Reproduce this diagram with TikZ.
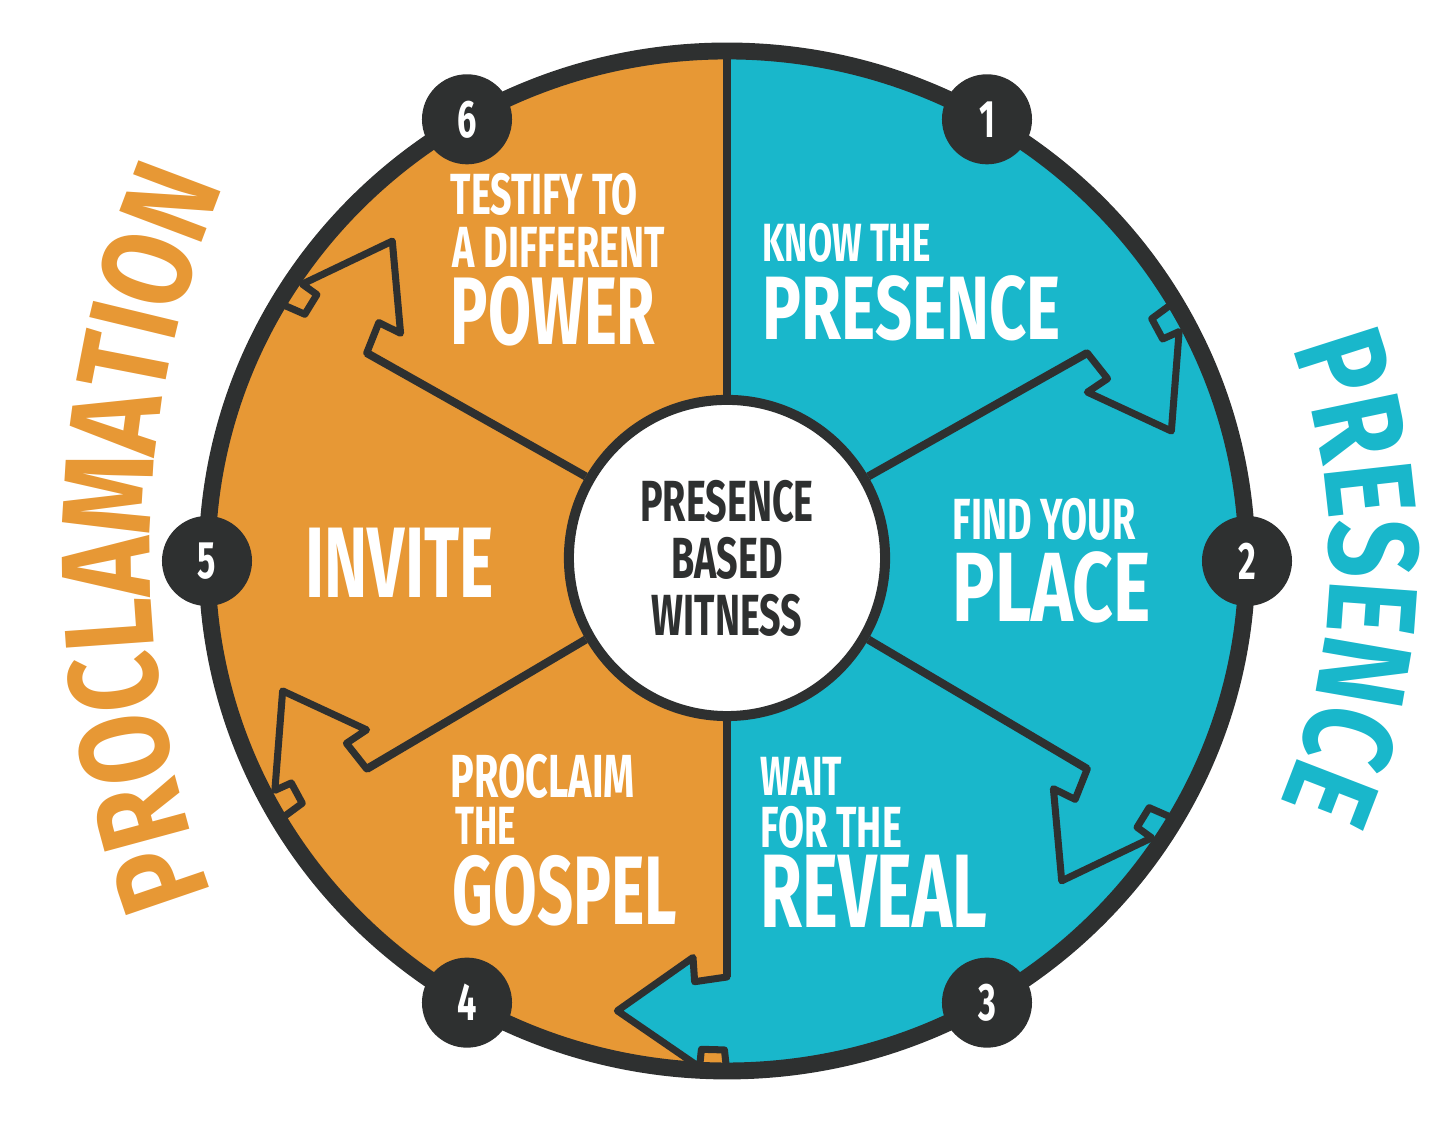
\documentclass[tikz,border=0pt]{standalone}
\usepackage{fontspec}
\usetikzlibrary{calc,decorations.text}
\newfontfamily\handfont[FakeStretch=0.65]{Fira Sans}
\newfontfamily\widefont[FakeStretch=0.72]{Fira Sans}
\newfontfamily\arcfont[FakeStretch=0.8]{Fira Sans}
\newcommand{\arcletters}{\arcfont\bfseries\fontsize{36}{36}\selectfont}
\definecolor{orangec}{HTML}{E79835}
\definecolor{tealc}{HTML}{19B7CB}
\definecolor{inkc}{HTML}{2E3030}

\begin{document}
\begin{tikzpicture}[x=0.01cm,y=0.01cm,
  hand/.style={font=\handfont\bfseries\fontsize{#1}{#1}\selectfont,text=white,anchor=base west,inner sep=0pt},
  wide/.style={font=\widefont\bfseries\fontsize{#1}{#1}\selectfont,text=white,anchor=base west,inner sep=0pt},
  ring/.style={draw=inkc,line width=4.8pt},
  spoke/.style={draw=inkc,line width=2.3pt},
  headline/.style={draw=inkc,line width=2pt,line join=round,line cap=round},
  hub/.style={circle,draw=inkc,line width=2.85pt,fill=white,minimum size=3.16cm,inner sep=0pt,align=center,text=inkc,font=\handfont\bfseries\fontsize{16.5}{16.2}\selectfont},
  badge/.style={circle,fill=inkc,minimum size=0.9cm,inner sep=0pt,text=white,font=\handfont\bfseries\fontsize{15}{15}\selectfont}]
\useasboundingbox (0,0) rectangle (1456,1125);
\coordinate (C) at (727,564);
% the two halves
\fill[orangec] (C) ++(0,510) arc[start angle=90,end angle=270,x radius=520,y radius=510] -- cycle;
\fill[tealc] (C) ++(0,510) arc[start angle=90,end angle=-90,x radius=520,y radius=510] -- cycle;
\node[hub] (hub) at (727,567) {PRESENCE\\BASED\\WITNESS};
% spokes and arrowheads, clockwise
\begin{scope}[shift={(C)}]
\foreach \a/\col in {30/tealc,330/tealc,270/tealc,210/orangec,150/orangec}{
  \coordinate (end\a) at (\a:416);
  \filldraw[headline,fill=\col] (end\a) -- ({\a-4.4}:422) -- ({\a-4.9}:398) -- ({\a-13.7}:463) -- ({\a-3.1}:507) -- ({\a-3}:489) -- ({\a-0.3}:489) -- (\a:512);
  \draw[spoke] (hub.\a) -- (end\a);
}
\coordinate (end90) at (90:512);
\draw[spoke] (hub.90) -- (end90);
\end{scope}
\draw[ring] (C) ellipse[x radius=520,y radius=510];
\begin{scope}[shift={(C)}]
\foreach \n/\a in {1/60,2/0,3/300,4/240,5/180,6/120}
  \node[badge] (badge\n) at (\a:520 and 510) {\n};
\end{scope}
% sector labels
\node[hand=16.5] (testify) at (450,910) {TESTIFY TO};
\node[hand=16.5] (different) at (452,857) {A DIFFERENT};
\node[hand=27.3] (power) at (450,780) {POWER};
\node[hand=15.3] (know) at (762,863) {KNOW THE};
\node[wide=25.6] (presence) at (762,785) {PRESENCE};
\node[hand=16.5] (find) at (952,585) {FIND YOUR};
\node[wide=28] (place) at (952,503) {PLACE};
\node[hand=28.5] (invite) at (305,527) {INVITE};
\node[hand=17.3] (proclaim) at (450,327) {PROCLAIM};
\node[hand=15.3] (the) at (455,280) {THE};
\node[hand=27.7] (gospel) at (452,200) {GOSPEL};
\node[hand=15.7] (wait) at (760,329) {WAIT};
\node[hand=16.5] (forthe) at (760,277) {FOR THE};
\node[hand=29.7] (reveal) at (760,197) {REVEAL};
% curved titles
\path[decorate,decoration={text along path,text={|\arcletters|PRESENCE},text align=center,text color=tealc}]
  (C) ++(40:603) arc[start angle=40,end angle=-43,radius=603];
\path[decorate,decoration={text along path,text={|\arcletters|PROCLAMATION},text align=center,text color=orangec}]
  (1107,570) ++(210:957) arc[start angle=210,end angle=148,radius=957];
\end{tikzpicture}
\end{document}
